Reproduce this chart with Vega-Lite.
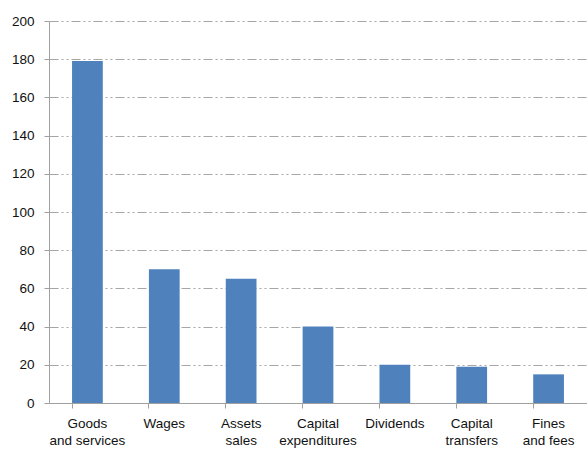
{
  "$schema": "https://vega.github.io/schema/vega-lite/v6.json",
  "width": 538,
  "height": 382,
  "autosize": {"type": "none"},
  "padding": {"left": 49, "top": 21, "right": 0, "bottom": 47},
  "background": "white",
  "config": {
    "view": {"stroke": null},
    "font": "Liberation Sans"
  },
  "data": {
    "values": [
      {"category": "Goods and services", "value": 179},
      {"category": "Wages", "value": 70},
      {"category": "Assets sales", "value": 65},
      {"category": "Capital expenditures", "value": 40},
      {"category": "Dividends", "value": 20},
      {"category": "Capital transfers", "value": 19},
      {"category": "Fines and fees", "value": 15}
    ]
  },
  "mark": {"type": "bar", "color": "#4F81BD"},
  "encoding": {
    "x": {
      "field": "category",
      "type": "nominal",
      "sort": null,
      "scale": {"paddingInner": 0.6, "paddingOuter": 0.3},
      "axis": {
        "title": null,
        "labelAngle": 0,
        "labelFont": "Liberation Sans",
        "labelFontSize": 13.5,
        "labelColor": "#111111",
        "labelLineHeight": 17,
        "labelPadding": 8,
        "tickSize": 5,
        "tickColor": "#a0a0a0",
        "domainColor": "#a0a0a0",
        "bandPosition": 0,
        "labelExpr": "indexof(datum.label,' ')>0 ? [substring(datum.label,0,indexof(datum.label,' ')), substring(datum.label,indexof(datum.label,' ')+1)] : datum.label"
      }
    },
    "y": {
      "field": "value",
      "type": "quantitative",
      "scale": {"domain": [0, 200]},
      "axis": {
        "title": null,
        "values": [0, 20, 40, 60, 80, 100, 120, 140, 160, 180, 200],
        "labelFont": "Liberation Sans",
        "labelFontSize": 13.5,
        "labelColor": "#111111",
        "labelPadding": 10,
        "tickSize": 5,
        "tickColor": "#a0a0a0",
        "domainColor": "#a0a0a0",
        "gridColor": "#a6a6a6",
        "gridDash": [9, 3, 2, 3, 2, 3]
      }
    }
  }
}
